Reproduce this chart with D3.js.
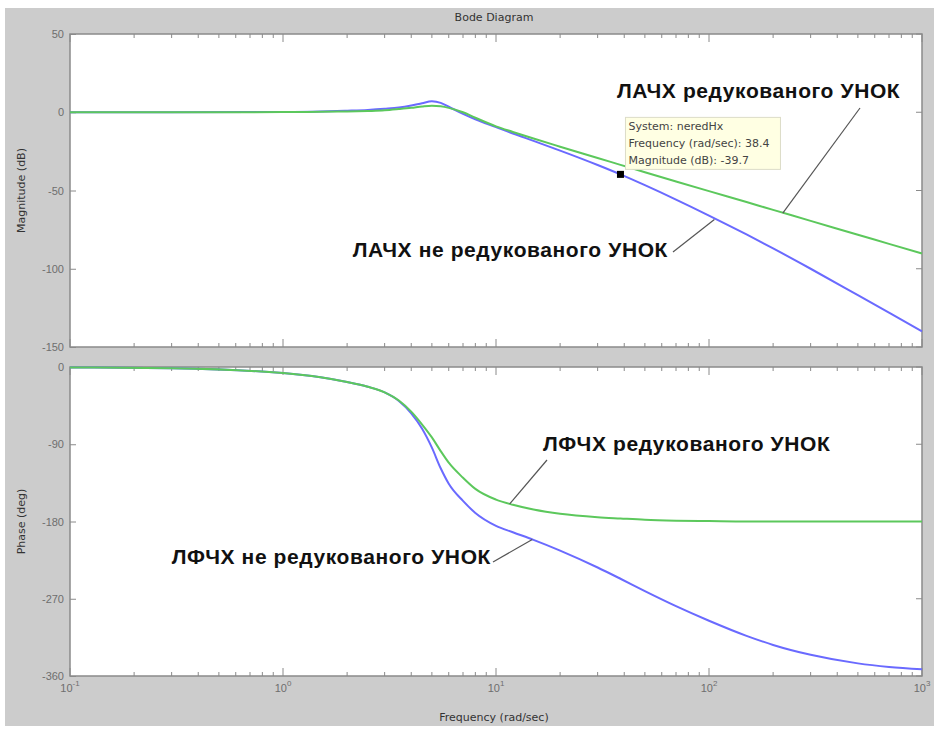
<!DOCTYPE html>
<html>
<head>
<meta charset="utf-8">
<script src="https://cdn.jsdelivr.net/npm/d3@7"></script>
<style>
  body { margin: 0; background: #fff; }
  svg { display: block; font-family: 'Liberation Sans', Arial, sans-serif; }
  .tick text { fill: #6e6e6e; font-size: 11px; }
  .frame { fill: #fff; stroke: #8a8a8a; stroke-width: 1.5; }
  .tk { stroke: #8a8a8a; stroke-width: 1; }
  .lbl { fill: #333; font-size: 11px; font-family: 'DejaVu Sans', sans-serif; }
  .note { font-weight: bold; font-size: 21px; letter-spacing: 0.6px; fill: #111; }
  .pointer { stroke: #555; stroke-width: 1.2; }
</style>
</head>
<body>
<div id="chart"></div>
<script>
const freq = [0.1, 0.3, 1, 1.5, 2, 2.5, 3, 3.5, 4, 4.5, 5, 5.5, 6, 7, 8, 10, 12, 15, 20, 30, 38.4, 50, 70, 100, 150, 200, 300, 500, 700, 1000];
// not reduced system (blue)
const magNered = [0, 0, 0.2, 0.5, 1.0, 1.5, 2.2, 3.0, 4.3, 5.8, 7.0, 6.0, 3.5, -1, -4.5, -9.5, -13.6, -18.3, -24.5, -33.7, -39.7, -46.6, -55.8, -66, -78.1, -87, -100, -116.9, -128.1, -140];
const phNered = [-0.5, -1.5, -7, -12, -17.5, -23, -29.5, -39.5, -54, -72, -94, -118, -136, -156, -170, -185, -192.5, -201.4, -213.9, -233.6, -246.7, -261.1, -278.6, -295.6, -313.2, -323.8, -335.3, -345.3, -349.4, -352.2];
// reduced system (green)
const magRed = [0, 0, 0.1, 0.3, 0.5, 0.8, 1.2, 2.0, 2.8, 3.7, 4.2, 3.8, 2.8, 0, -3.5, -9, -12.6, -16.8, -22, -29.2, -33.6, -38.3, -44.2, -50.4, -57.4, -62.4, -69.4, -78.3, -84.1, -90.3];
const phRed = [-0.5, -1.5, -7, -12, -17.5, -23, -29.5, -39, -52, -67, -82, -98, -111.5, -129, -142, -154.5, -160.5, -166, -171, -175, -176.5, -178, -179, -179.5, -180, -180, -180, -180, -180, -180];

const magTicks = [50, 0, -50, -100, -150];
const phTicks = [0, -90, -180, -270, -360];
const decades = [0.1, 1, 10, 100, 1000];
const decadeExp = ['-1', '0', '1', '2', '3'];

// data tip
const tipFreq = 38.4, tipMag = -39.7;
const tipLines = ['System: neredHx', 'Frequency (rad/sec): 38.4', 'Magnitude (dB): -39.7'];

const width = 934, height = 731;
const svg = d3.select('#chart').append('svg')
  .attr('width', width)
  .attr('height', height);

svg.append('rect')
  .attr('x', 5).attr('y', 8)
  .attr('width', width - 5).attr('height', 718)
  .attr('fill', '#cccccc');

const left = 70, right = 922;
const x = d3.scaleLog().domain([0.1, 1000]).range([left, right]);
const yMag = d3.scaleLinear().domain([-150, 50]).range([347, 34]);
const yPh = d3.scaleLinear().domain([-360, 0]).range([676, 367]);

const minor = [];
decades.slice(0, -1).forEach(d => { for (let k = 2; k <= 9; k++) minor.push(d * k); });

function panel(y, ticks) {
  const [bot, top] = y.range();
  const g = svg.append('g');
  g.append('rect').attr('class', 'frame')
    .attr('x', left).attr('y', top)
    .attr('width', right - left).attr('height', bot - top);
  // left axis, ticks pointing in
  const ax = g.append('g')
    .attr('transform', 'translate(' + left + ',0)')
    .call(d3.axisLeft(y).tickValues(ticks).tickSize(-6).tickPadding(6).tickFormat(d => String(d)));
  ax.select('.domain').remove();
  ax.selectAll('line').attr('stroke', '#8a8a8a');
  // right side ticks
  g.selectAll(null).data(ticks).enter().append('line')
    .attr('class', 'tk')
    .attr('x1', right).attr('x2', right - 6)
    .attr('y1', d => y(d)).attr('y2', d => y(d));
  // top/bottom ticks
  [[top, 1], [bot, -1]].forEach(([yy, dir]) => {
    g.selectAll(null).data(minor).enter().append('line')
      .attr('class', 'tk')
      .attr('x1', d => x(d)).attr('x2', d => x(d))
      .attr('y1', yy).attr('y2', yy + dir * 4);
    g.selectAll(null).data(decades).enter().append('line')
      .attr('class', 'tk')
      .attr('x1', d => x(d)).attr('x2', d => x(d))
      .attr('y1', yy).attr('y2', yy + dir * 8);
  });
  return g;
}

const gMag = panel(yMag, magTicks);
const gPh = panel(yPh, phTicks);

// curves
function draw(g, y, vals, color) {
  const line = d3.line()
    .x((d, i) => x(freq[i]))
    .y(d => y(d))
    .curve(d3.curveMonotoneX);
  g.append('path')
    .datum(vals)
    .attr('fill', 'none')
    .attr('stroke', color)
    .attr('stroke-width', 2)
    .attr('d', line);
}
draw(gMag, yMag, magNered, '#6a6aff');
draw(gMag, yMag, magRed, '#5cc85c');
draw(gPh, yPh, phNered, '#6a6aff');
draw(gPh, yPh, phRed, '#5cc85c');

// x tick labels 10^n
decades.forEach((d, i) => {
  const t = svg.append('text')
    .attr('x', x(d))
    .attr('y', 692)
    .attr('text-anchor', 'middle')
    .attr('fill', '#6e6e6e')
    .attr('font-size', 11);
  t.append('tspan').text('10');
  t.append('tspan').attr('dy', -6).attr('font-size', 8).text(decadeExp[i]);
});

// titles
svg.append('text').attr('class', 'lbl')
  .attr('x', (left + right) / 2 - 2).attr('y', 21)
  .attr('font-size', 10)
  .attr('text-anchor', 'middle').text('Bode Diagram');
svg.append('text').attr('class', 'lbl')
  .attr('x', (left + right) / 2 - 2).attr('y', 721)
  .attr('text-anchor', 'middle').text('Frequency (rad/sec)');
svg.append('text').attr('class', 'lbl')
  .attr('font-size', 10)
  .attr('transform', 'translate(25,' + ((yMag.range()[0] + yMag.range()[1]) / 2) + ') rotate(-90)')
  .attr('text-anchor', 'middle').text('Magnitude (dB)');
svg.append('text').attr('class', 'lbl')
  .attr('font-size', 10)
  .attr('transform', 'translate(25,' + ((yPh.range()[0] + yPh.range()[1]) / 2) + ') rotate(-90)')
  .attr('text-anchor', 'middle').text('Phase (deg)');

// annotations: text position, pointer start, pointer end on a curve (freq, value)
const notes = [
  { text: 'ЛАЧХ редукованого УНОК', tx: 617, ty: 98, anchor: 'start', px: 860, py: 108, f: 222, y: yMag, v: -64.5 },
  { text: 'ЛАЧХ не редукованого УНОК', tx: 668, ty: 257, anchor: 'end', px: 673, py: 252, f: 106, y: yMag, v: -68.5 },
  { text: 'ЛФЧХ редукованого УНОК', tx: 543, ty: 451, anchor: 'start', px: 547, py: 460, f: 11.6, y: yPh, v: -159.5 },
  { text: 'ЛФЧХ не редукованого УНОК', tx: 491, ty: 564, anchor: 'end', px: 493, py: 562, f: 14.8, y: yPh, v: -201 }
];
notes.forEach(n => {
  svg.append('line').attr('class', 'pointer')
    .attr('x1', n.px).attr('y1', n.py)
    .attr('x2', x(n.f)).attr('y2', n.y(n.v));
  svg.append('text').attr('class', 'note')
    .attr('x', n.tx).attr('y', n.ty)
    .attr('text-anchor', n.anchor)
    .text(n.text);
});

// data tip marker and box
const mx = x(tipFreq), my = yMag(tipMag);
svg.append('rect')
  .attr('x', mx - 3.5).attr('y', my - 3.5)
  .attr('width', 7).attr('height', 7)
  .attr('fill', '#000');
const tip = svg.append('g').attr('transform', 'translate(' + (mx + 5) + ',' + (my - 57) + ')');
tip.append('rect')
  .attr('width', 155).attr('height', 52)
  .attr('fill', '#ffffe3')
  .attr('stroke', '#dcdcc8');
tip.selectAll('text').data(tipLines).enter().append('text')
  .attr('x', 3).attr('y', (d, i) => 13 + i * 17)
  .attr('font-size', 11)
  .attr('font-family', "'DejaVu Sans', sans-serif")
  .attr('fill', '#444')
  .text(d => d);
</script>
</body>
</html>
